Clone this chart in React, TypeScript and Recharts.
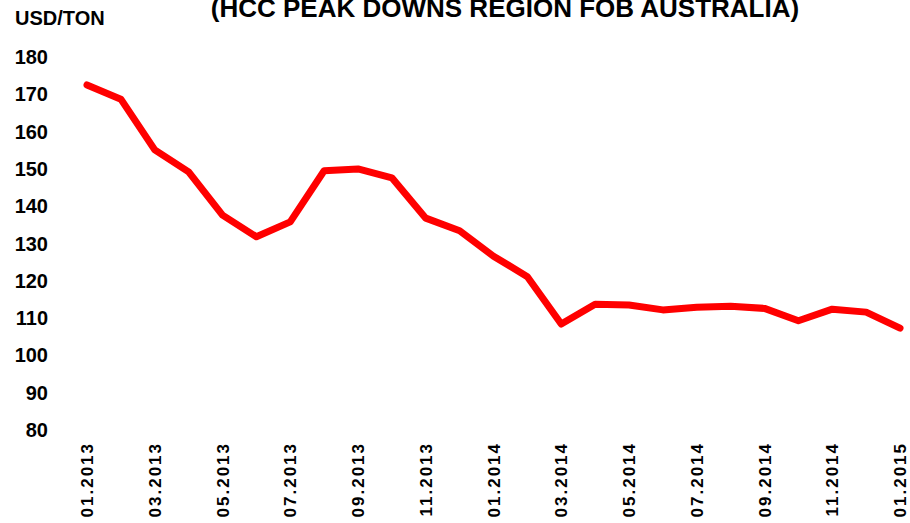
import React from 'react'
import { LineChart, Line, XAxis, YAxis } from 'recharts'

const months = [
  '01.2013', '02.2013', '03.2013', '04.2013', '05.2013', '06.2013', '07.2013',
  '08.2013', '09.2013', '10.2013', '11.2013', '12.2013', '01.2014', '02.2014',
  '03.2014', '04.2014', '05.2014', '06.2014', '07.2014', '08.2014', '09.2014',
  '10.2014', '11.2014', '12.2014', '01.2015',
]

const prices = [
  172.5, 168.7, 155.1, 149.2, 137.6, 131.8, 135.8, 149.5, 150.0, 147.6,
  136.8, 133.4, 126.6, 121.1, 108.4, 113.7, 113.5, 112.2, 112.9, 113.2,
  112.6, 109.3, 112.4, 111.6, 107.3,
]

const yTicks = [80, 90, 100, 110, 120, 130, 140, 150, 160, 170, 180]
const xTicks = months.filter((_, i) => i % 2 === 0)

const data = months.map((m, i) => ({ month: m, price: prices[i] }))

const FONT = '"Liberation Sans", Arial, sans-serif'

const YTick = (props: any) => {
  const { y, payload } = props
  return (
    <text x={48} y={y} dy={7} textAnchor="end" fontFamily={FONT} fontWeight="bold" fontSize={20} fill="#000">
      {payload.value}
    </text>
  )
}

const XTick = (props: any) => {
  const { x, payload } = props
  return (
    <text
      transform={`translate(${x},442) rotate(-90)`}
      dy={6}
      textAnchor="end"
      fontFamily={FONT}
      fontWeight="bold"
      fontSize={17}
      letterSpacing={2}
      fill="#000"
    >
      {payload.value}
    </text>
  )
}

export default function App() {
  return (
    <div style={{ position: 'absolute', left: 0, top: 0, width: 910, height: 523, background: '#fff' }}>
      <LineChart width={910} height={523} data={data} margin={{ top: 57, right: 10, bottom: 0, left: 0 }}>
        <text x={505} y={17} textAnchor="middle" fontFamily={FONT} fontWeight="bold" fontSize={26} fill="#000">
          (HCC PEAK DOWNS REGION FOB AUSTRALIA)
        </text>
        <text x={15} y={25} fontFamily={FONT} fontWeight="bold" fontSize={20} fill="#000">
          USD/TON
        </text>
        <XAxis
          dataKey="month"
          ticks={xTicks}
          interval={0}
          height={93}
          axisLine={false}
          tickLine={false}
          tick={<XTick />}
          padding={{ left: 0, right: 0 }}
        />
        <YAxis
          domain={[80, 180]}
          ticks={yTicks}
          width={87}
          axisLine={false}
          tickLine={false}
          tick={<YTick />}
          interval={0}
        />
        <Line
          type="linear"
          dataKey="price"
          stroke="#ff0000"
          strokeWidth={7}
          dot={false}
          isAnimationActive={false}
          strokeLinejoin="round"
          strokeLinecap="round"
        />
      </LineChart>
    </div>
  )
}
